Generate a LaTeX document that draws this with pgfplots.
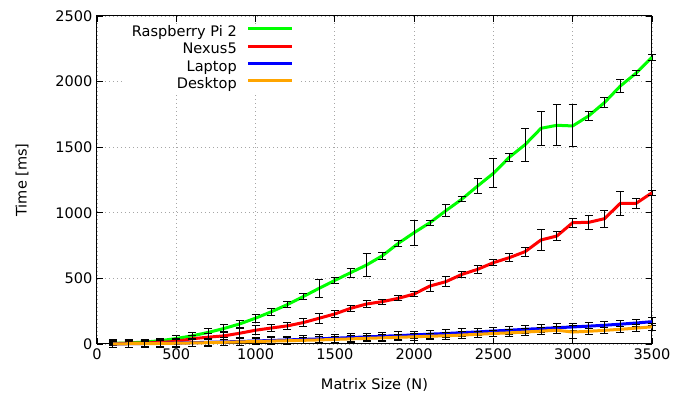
\documentclass[border=0pt]{standalone}
\usepackage{pgfplots}
\pgfplotsset{compat=1.18}
\usepackage{pgfplotstable}
\usepackage{fontspec}
\setmainfont{DejaVu Sans}

\definecolor{cpi}{RGB}{0,255,0}
\definecolor{cnexus}{RGB}{255,0,0}
\definecolor{claptop}{RGB}{0,0,255}
\definecolor{cdesktop}{RGB}{255,165,0}

% Matrix size, mean time [ms], error
\pgfplotstableread{
n    t     e
100  5     15
200  8     15
300  15    15
400  25    20
500  42    25
600  62    25
700  88    30
800  118   30
900  153   30
1000 197   30
1100 246   25
1200 300   25
1300 361   25
1400 424   70
1500 485   25
1600 544   35
1700 602   85
1800 673   25
1900 767   20
2000 849   95
2100 925   20
2200 1016  45
2300 1103  20
2400 1204  60
2500 1301  110
2600 1423  30
2700 1520  125
2800 1644  130
2900 1667  155
3000 1662  160
3100 1738  38
3200 1840  38
3300 1966  52
3400 2065  20
3500 2185  25
}\pi

\pgfplotstableread{
n    t     e
100  3     10
200  5     10
300  8     10
400  12    15
500  20    20
600  40    25
700  52    30
800  62    30
900  82    35
1000 105   35
1100 122   30
1200 138   25
1300 163   30
1400 196   40
1500 229   25
1600 272   25
1700 305   25
1800 323   20
1900 348   20
2000 381   20
2100 442   45
2200 475   40
2300 530   25
2400 569   30
2500 620   25
2600 658   30
2700 704   35
2800 793   80
2900 823   35
3000 925   35
3100 927   55
3200 955   65
3300 1072  90
3400 1072  37
3500 1153  20
}\nexus

\pgfplotstableread{
n    t     e
100  1     30
200  2     30
300  4     30
400  5     30
500  7     30
600  10    30
700  13    30
800  16    30
900  19    30
1000 23    30
1100 27    30
1200 31    30
1300 35    30
1400 39    30
1500 44    30
1600 49    30
1700 54    30
1800 59    30
1900 64    30
2000 69    30
2100 75    30
2200 80    30
2300 86    30
2400 92    30
2500 99    30
2600 105   30
2700 112   30
2800 118   30
2900 124   30
3000 130   30
3100 136   30
3200 143   30
3300 151   30
3400 160   30
3500 170   30
}\laptop

\pgfplotstableread{
n    t     e
100  1     25
200  2     25
300  3     25
400  4     25
500  6     25
600  8     25
700  10    25
800  13    25
900  16    25
1000 19    25
1100 22    25
1200 25    25
1300 28    25
1400 31    25
1500 35    25
1600 39    25
1700 43    25
1800 47    25
1900 51    25
2000 55    25
2100 59    25
2200 63    25
2300 68    25
2400 74    25
2500 80    25
2600 85    25
2700 91    25
2800 98    25
2900 105   25
3000 91    50
3100 97    25
3200 104   25
3300 112   25
3400 121   25
3500 131   25
}\desktop

\begin{document}
\begin{tikzpicture}
\begin{axis}[
  at={(0,0)}, anchor=south west,
  scale only axis, width=416.25pt, height=246pt,
  xmin=0, xmax=3500, ymin=0, ymax=2500,
  xtick={0,500,...,3500}, ytick={0,500,...,2500},
  /pgf/number format/1000 sep={},
  /pgf/number format/assume math mode=true,
  tick align=inside, major tick length=4.5pt,
  tick style={black, line width=0.6pt},
  axis line style={black, line width=0.75pt},
  grid=major,
  major grid style={black!35, line width=0.6pt, dash pattern=on 0.6pt off 2.4pt},
  font=\fontsize{10.9}{13}\selectfont,
  xlabel={Matrix Size (N)}, ylabel={Time [ms]},
  x label style={at={(axis description cs:0.5,-0.125)}, anchor=center},
  y label style={at={(axis description cs:-0.135,0.5)}, anchor=center},
  clip=false,
  legend plot pos=right,
  legend cell align=right,
  legend style={at={(axis description cs:0.367,0.9747)}, anchor=north east,
    draw=none, fill=white, inner xsep=5pt, inner ysep=0pt, row sep=0pt, column sep=7.5pt,
    nodes={inner sep=0pt, text height=9pt, text depth=4pt}},
  legend image code/.code={\draw[#1, line width=2.25pt] (0pt,0.33em) -- (33pt,0.33em);},
  every axis plot/.append style={line width=2.25pt},
  error bars/y dir=both, error bars/y explicit,
  error bars/error bar style={black, line width=0.7pt, solid},
  error bars/error mark options={rotate=90, mark size=3pt, black, line width=0.7pt},
]
\addplot[cpi] table[x=n, y=t, y error=e] {\pi};
\addlegendentry{Raspberry Pi 2}
\addplot[cnexus] table[x=n, y=t, y error=e] {\nexus};
\addlegendentry{Nexus5}
\addplot[claptop] table[x=n, y=t, y error=e] {\laptop};
\addlegendentry{Laptop}
\addplot[cdesktop] table[x=n, y=t, y error=e] {\desktop};
\addlegendentry{Desktop}
\end{axis}
\pgfresetboundingbox
\path[use as bounding box] (-72.75pt,-39pt) rectangle (447.75pt,258pt);
\end{tikzpicture}
\end{document}
